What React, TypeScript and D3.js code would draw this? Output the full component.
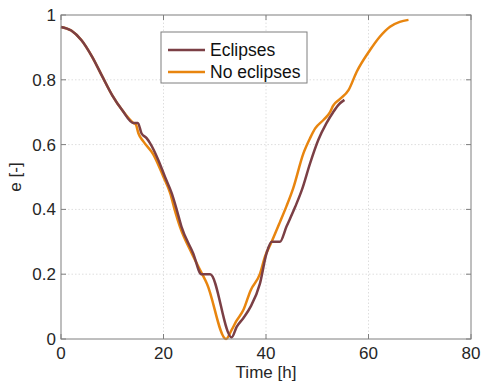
import React, { useEffect } from 'react';
import * as d3 from 'd3';

// time [h] and eccentricity readings for the two runs
const eclipseTime = [0, 2, 4, 6, 8, 10, 12, 14.1, 15.0, 15.7, 16.7, 17.4, 19.0, 20.3, 21.6, 22.6, 23.5, 25.8, 27.4, 29.1, 33.3, 34.3, 35.6, 37.0, 38.8, 40.1, 41.1, 42.7, 44.0, 45.7, 47.0, 48.6, 50.2, 51.8, 53.1, 54.1, 55.3];
const eclipseE = [0.963, 0.952, 0.922, 0.873, 0.812, 0.752, 0.705, 0.667, 0.667, 0.635, 0.62, 0.604, 0.552, 0.5, 0.45, 0.398, 0.347, 0.264, 0.2, 0.2, 0.005, 0.038, 0.065, 0.1, 0.17, 0.264, 0.3, 0.3, 0.347, 0.408, 0.46, 0.542, 0.614, 0.666, 0.7, 0.722, 0.738];

const noEclipseTime = [0, 2, 4, 6, 8, 10, 12, 14.1, 14.6, 15.1, 16.1, 18.0, 20.0, 21.3, 22.2, 23.2, 25.5, 27.4, 28.5, 32.2, 33.3, 34.2, 35.6, 37.0, 38.8, 39.8, 41.1, 42.7, 44.0, 45.3, 47.3, 48.6, 49.6, 51.2, 52.5, 53.1, 54.4, 56.1, 57.7, 60.3, 62.2, 64.2, 66.1, 67.8];
const noEclipseE = [0.963, 0.952, 0.922, 0.873, 0.812, 0.752, 0.705, 0.667, 0.662, 0.635, 0.609, 0.57, 0.5, 0.45, 0.398, 0.347, 0.265, 0.205, 0.17, 0.0, 0.028, 0.055, 0.09, 0.15, 0.2, 0.254, 0.3, 0.36, 0.41, 0.465, 0.573, 0.62, 0.65, 0.676, 0.7, 0.72, 0.74, 0.768, 0.825, 0.892, 0.933, 0.964, 0.979, 0.985];

const xTicks = [0, 20, 40, 60, 80];
const yTicks = [0, 0.2, 0.4, 0.6, 0.8, 1];
const seriesNames = ['Eclipses', 'No eclipses'];
const seriesColors = ['#7b3f45', '#e8850f'];

const W = 481;
const H = 381;
const margin = { top: 15, right: 10, bottom: 42, left: 61 };
const FONT = '"Liberation Sans", Arial, sans-serif';

export default function App() {
  useEffect(() => {
    document.body.style.margin = '0';
  }, []);

  const x = d3.scaleLinear().domain([0, 80]).range([margin.left, W - margin.right]);
  const y = d3.scaleLinear().domain([0, 1]).range([H - margin.bottom, margin.top]);

  const line = d3.line<[number, number]>()
    .x(d => x(d[0]))
    .y(d => y(d[1]))
    .curve(d3.curveMonotoneX);

  const series = [
    eclipseTime.map((t, i) => [t, eclipseE[i]] as [number, number]),
    noEclipseTime.map((t, i) => [t, noEclipseE[i]] as [number, number]),
  ];

  const x0 = margin.left, x1 = W - margin.right;
  const y0 = H - margin.bottom, y1 = margin.top;
  const axisColor = '#7f7f7f';
  const textColor = '#262626';
  const tick = 5;

  const leg = { x: 161, y: 32, w: 146, h: 51 };

  return (
    <svg width={W} height={H} style={{ display: 'block', background: '#fff' }}>
      {/* grid */}
      <g stroke="#dedede" strokeWidth={1} strokeDasharray="1.5 2">
        {xTicks.slice(1, -1).map(t => (
          <line key={'gx' + t} x1={x(t)} x2={x(t)} y1={y0} y2={y1} />
        ))}
        {yTicks.slice(1, -1).map(t => (
          <line key={'gy' + t} x1={x0} x2={x1} y1={y(t)} y2={y(t)} />
        ))}
      </g>

      {/* data lines, eclipses drawn on top */}
      {[1, 0].map(i => (
        <path key={i} d={line(series[i]) || ''} fill="none" stroke={seriesColors[i]} strokeWidth={2.5} strokeLinejoin="round" />
      ))}

      {/* box + ticks */}
      <rect x={x0} y={y1} width={x1 - x0} height={y0 - y1} fill="none" stroke={axisColor} strokeWidth={1} />
      <g stroke={axisColor} strokeWidth={1}>
        {xTicks.map(t => (
          <g key={'tx' + t}>
            <line x1={x(t)} x2={x(t)} y1={y0} y2={y0 - tick} />
            <line x1={x(t)} x2={x(t)} y1={y1} y2={y1 + tick} />
          </g>
        ))}
        {yTicks.map(t => (
          <g key={'ty' + t}>
            <line x1={x0} x2={x0 + tick} y1={y(t)} y2={y(t)} />
            <line x1={x1} x2={x1 - tick} y1={y(t)} y2={y(t)} />
          </g>
        ))}
      </g>

      {/* tick labels */}
      <g fontFamily={FONT} fontSize={17} fill={textColor}>
        {xTicks.map(t => (
          <text key={'lx' + t} x={x(t)} y={y0 + 20} textAnchor="middle">{t}</text>
        ))}
        {yTicks.map(t => (
          <text key={'ly' + t} x={x0 - 5} y={y(t)} dy="0.35em" textAnchor="end">{d3.format('~g')(t)}</text>
        ))}
      </g>

      {/* axis titles */}
      <text x={(x0 + x1) / 2} y={378} textAnchor="middle" fontFamily={FONT} fontSize={17} fill={textColor}>Time [h]</text>
      <text transform={`translate(21,${(y0 + y1) / 2}) rotate(-90)`} textAnchor="middle" fontFamily={FONT} fontSize={17} fill={textColor}>e [-]</text>

      {/* legend */}
      <rect x={leg.x} y={leg.y} width={leg.w} height={leg.h} fill="#fff" stroke={axisColor} strokeWidth={1} />
      {seriesNames.map((name, i) => (
        <g key={name}>
          <line x1={leg.x + 7} x2={leg.x + 44} y1={leg.y + 18 + i * 22} y2={leg.y + 18 + i * 22} stroke={seriesColors[i]} strokeWidth={2.5} />
          <text x={leg.x + 49} y={leg.y + 18 + i * 22} dy="0.35em" fontFamily={FONT} fontSize={17.5} fill="#111">{name}</text>
        </g>
      ))}
    </svg>
  );
}
